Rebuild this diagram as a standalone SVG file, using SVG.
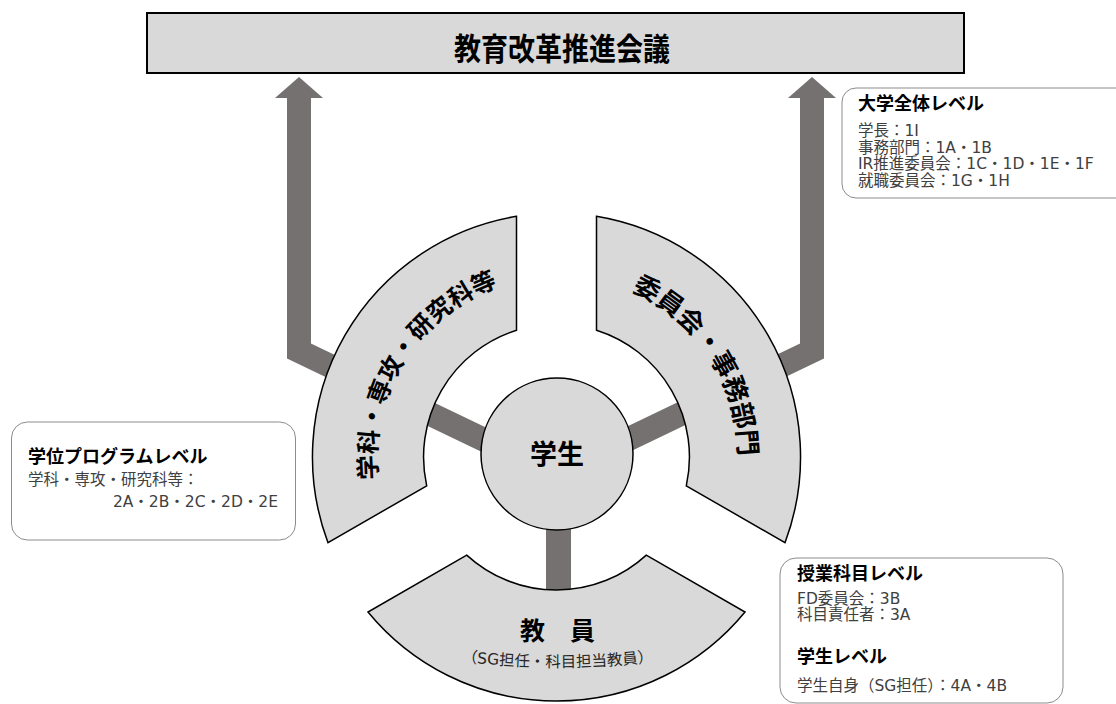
<svg xmlns="http://www.w3.org/2000/svg" width="1116" height="704" viewBox="0 0 1116 704">
<style>
.bar{fill:none;stroke:#767171;stroke-width:24;stroke-linejoin:miter}
.head{fill:#767171}
.sec{fill:#d9d9d9;stroke:#000;stroke-width:1.5}
.info{fill:#fff;stroke:#8c8c8c;stroke-width:1}
.h{font-family:"Noto Sans CJK JP",sans-serif;font-weight:bold;font-size:18px;fill:#000}
.b{font-family:"DejaVu Sans","Noto Sans CJK JP",sans-serif;font-size:15.5px;fill:#404040}
.big{font-family:"Noto Sans CJK JP",sans-serif;font-weight:bold;fill:#000}
</style>
<defs>
<path id="arcL" d="M 408.2,560.8 A 182 182 0 0 1 584.8,278.2"/>
<path id="arcR" d="M 524.9,277.8 A 182 182 0 0 1 707.4,558.8"/>
<path id="arcB" d="M 450,660 A 800 800 0 0 0 665,660"/>
</defs>

<g id="connectors">
<polyline class="bar" points="299,97 299,351 540,466.7"/>
<polygon class="head" points="299,77 323,98 275,98"/>
<polyline class="bar" points="812,97 812,351 571,466.7"/>
<polygon class="head" points="812,77 836,98 788,98"/>
<line class="bar" x1="558.5" y1="515" x2="558.5" y2="600" style="stroke-width:25"/>
</g>

<g id="council">
<rect x="147" y="13" width="817" height="60" fill="#d9d9d9" stroke="#000" stroke-width="2"/>
<text class="big" font-size="27" text-anchor="middle" transform="translate(562,48) scale(1,1.15)" y="10">教育改革推進会議</text>
</g>

<g id="dept">
<path class="sec" d="M 516.5,216.3 A 244 244 0 0 0 328,542.7 L 426.7,485.8 A 133 133 0 0 1 516.5,330.2 Z"/>
<text class="big" font-size="24.5"><textPath href="#arcL" startOffset="50%" text-anchor="middle">学科・専攻・研究科等</textPath></text>
</g>

<g id="committee">
<path class="sec" d="M 596.5,216.3 A 244 244 0 0 1 785,542.7 L 686.3,485.8 A 133 133 0 0 0 596.5,330.2 Z"/>
<text class="big" font-size="26"><textPath href="#arcR" startOffset="50%" text-anchor="middle">委員会・事務部門</textPath></text>
</g>

<g id="faculty">
<path class="sec" d="M 368,612 A 244 244 0 0 0 745,612 L 646.3,555.1 A 133 133 0 0 1 466.7,555.1 Z"/>
<text class="big" font-size="25" x="557.5" y="640" text-anchor="middle">教　員</text>
<text font-family="DejaVu Sans, Noto Sans CJK JP, sans-serif" font-size="15.5" fill="#262626"><textPath href="#arcB" startOffset="50%" text-anchor="middle">（SG担任・科目担当教員）</textPath></text>
</g>

<g id="student">
<circle cx="557" cy="454" r="76" fill="#d9d9d9" stroke="#000" stroke-width="1.5"/>
<text class="big" font-size="27" x="557" y="464" text-anchor="middle">学生</text>
</g>

<g id="univ-level">
<rect class="info" x="842" y="88" width="290" height="110" rx="14"/>
<text class="h" x="858" y="110">大学全体レベル</text>
<text class="b" x="858" y="136">学長：1I</text>
<text class="b" x="858" y="152.5">事務部門：1A・1B</text>
<text class="b" x="858" y="169">IR推進委員会：1C・1D・1E・1F</text>
<text class="b" x="858" y="185.5">就職委員会：1G・1H</text>
</g>

<g id="program-level">
<rect class="info" x="11.5" y="422" width="284" height="118" rx="16"/>
<text class="h" x="28" y="463">学位プログラムレベル</text>
<text class="b" x="28" y="485">学科・専攻・研究科等：</text>
<text class="b" x="278" y="507" text-anchor="end">2A・2B・2C・2D・2E</text>
</g>

<g id="course-level">
<rect class="info" x="780" y="558" width="283" height="145" rx="16"/>
<text class="h" x="797" y="580">授業科目レベル</text>
<text class="b" x="797" y="603.5">FD委員会：3B</text>
<text class="b" x="797" y="620">科目責任者：3A</text>
<text class="h" x="797" y="663">学生レベル</text>
<text class="b" x="797" y="691">学生自身（SG担任）：4A・4B</text>
</g>
</svg>
